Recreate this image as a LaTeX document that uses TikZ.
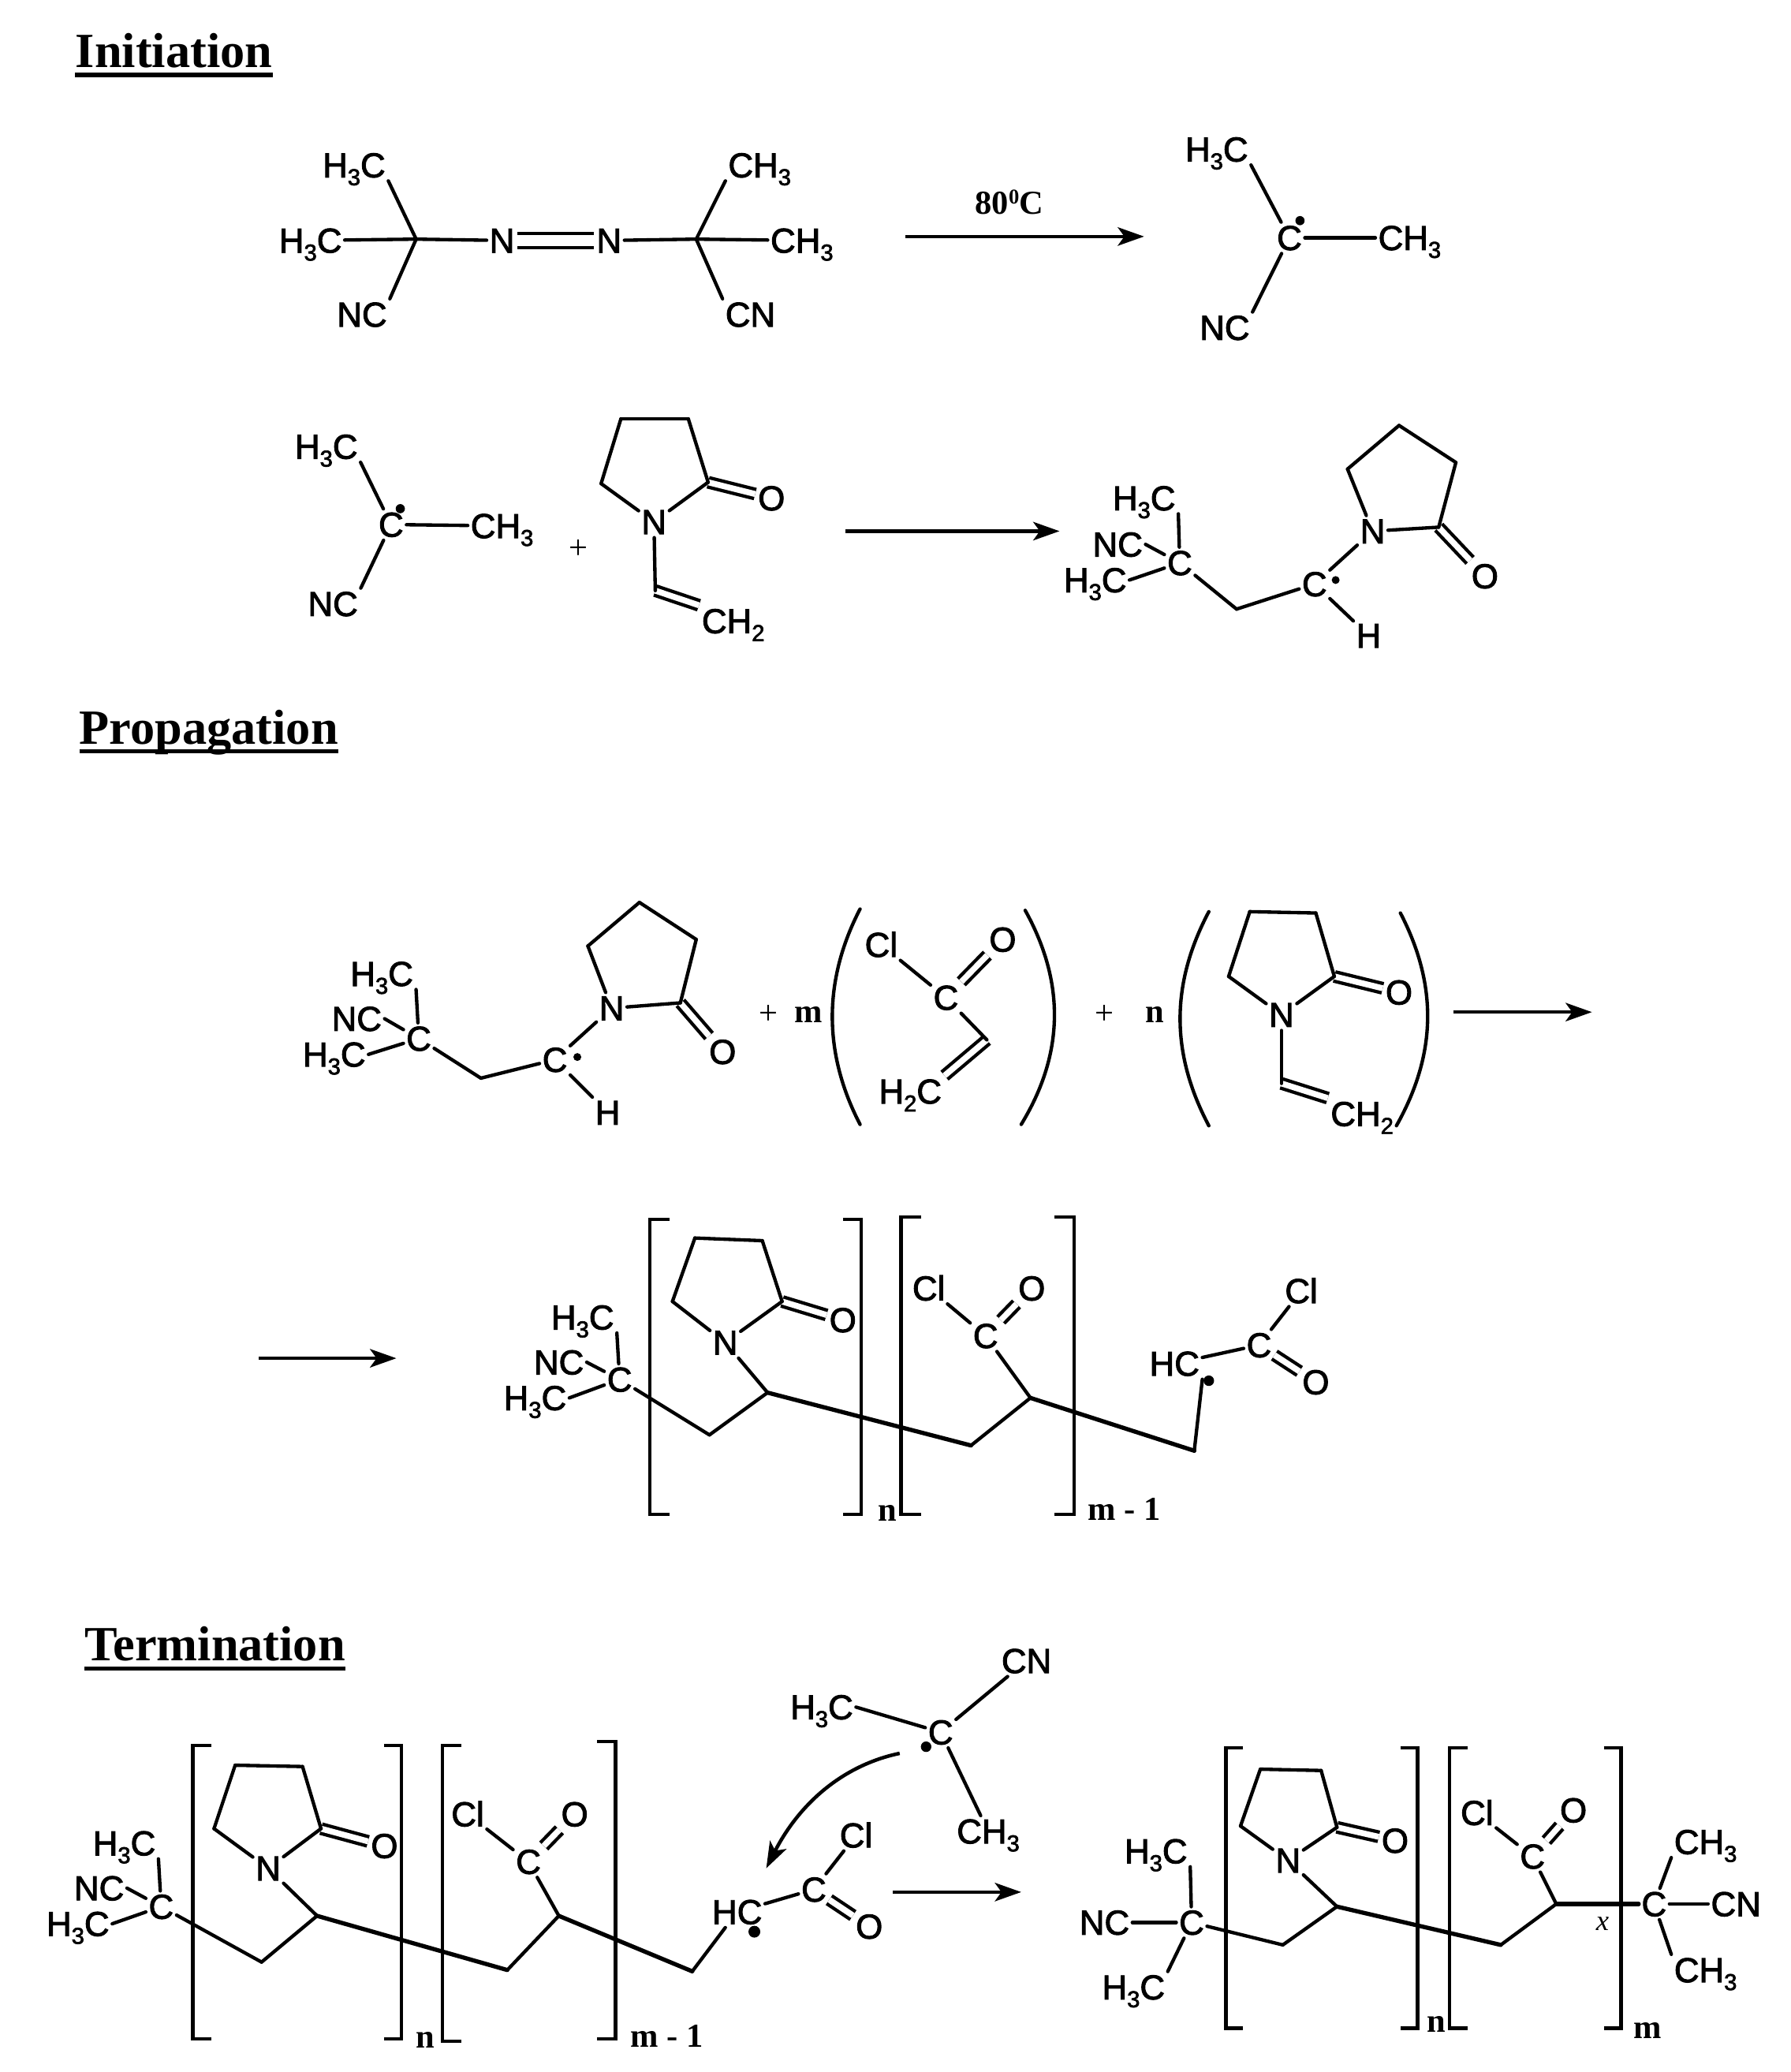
\documentclass[tikz,border=0pt]{standalone}
\usepackage{fontspec}
\usepackage{tikz}
\usetikzlibrary{arrows.meta}
\setmainfont{Liberation Sans}[FakeBold=2.2]
\newfontfamily\chemserif{Liberation Serif}
\tikzset{
  chemtext/.style={font=\fontsize{26.3}{30}\selectfont, text height=18.5pt, text depth=0pt, inner xsep=2pt, inner ysep=2.5pt},
  serifbold/.style={font=\chemserif\bfseries\fontsize{25.5}{30}\selectfont, inner sep=0pt},
  serifplain/.style={font=\chemserif\fontsize{25.5}{30}\selectfont, inner sep=0pt},
  titletext/.style={font=\chemserif\bfseries\fontsize{37.4}{44}\selectfont, text depth=5.5pt, inner sep=0pt, anchor=base west},
  bondline/.style={line width=2.6pt, line cap=round},
  heavyline/.style={line width=3.2pt, line cap=round},
  reactarrow/.style={line width=2.7pt, -{Stealth[length=20pt,width=14pt,inset=5pt]}},
}
\newcommand{\chemsub}[1]{\raisebox{-6pt}{\fontsize{17.5}{17}\selectfont #1}}
\newcommand{\chemlabel}[3] {\node at (#1) (#2) [chemtext] {#3};}
\newcommand{\chemword}[4] {\node at (#1) (#2) [#3] {#4};}
\newcommand{\chemvertex}[2] {\coordinate (#2) at (#1);}
\newcommand{\chemdot}[3] {\node at (#1) (#2) [circle, fill, inner sep=0pt, minimum size=#3] {};}
\newcommand{\chembond}[2] {\draw [bondline] (#1) -- (#2);}
\newcommand{\chemheavy}[2] {\draw [heavyline] (#1) -- (#2);}
\newcommand{\chemdouble}[3][4.5pt] {\draw [bondline, line cap=butt, double, double distance=#1] (#2) -- (#3);}
\newcommand{\chemtitle}[3] {\node at (#1) (#2) [titletext] {#3}; \draw [line width=3.2pt] (#2.south west) -- (#2.south east);}
\newcommand{\chembracket}[4] {\draw [bondline, line cap=butt, line join=miter] (#2,#3) -- (#1,#3) -- (#1,#4) -- (#2,#4);}
\newcommand{\chemparen}[4] {\draw [bondline] (#1) .. controls (#2) and (#3) .. (#4);}
\newcommand{\chemarrow}[2] {\draw [reactarrow] (#1) -- (#2);}

\begin{document}
\begin{tikzpicture}[x=1.005pt, y=-1.005pt]
\useasboundingbox (0,0) rectangle (1355.2,1568.2);

\chemtitle{57,51}{initiation}{Initiation}
\chemtitle{60,563}{propagation}{Propagation}
\chemtitle{64,1257}{termination}{Termination}

% azo initiator
\chemlabel{268,125}{aH1}{H\chemsub{3}C}
\chemlabel{235,182}{aH2}{H\chemsub{3}C}
\chemlabel{274,238}{aNC}{NC}
\chemvertex{315,181}{aC1}
\chemlabel{380,182}{aN1}{N}
\chemlabel{461,182}{aN2}{N}
\chemvertex{527,181}{aC2}
\chemlabel{575,125}{aH3}{CH\chemsub{3}}
\chemlabel{607,182}{aH4}{CH\chemsub{3}}
\chemlabel{568,238}{aCN}{CN}
\chembond{aH1.south east}{aC1}
\chembond{aH2}{aC1}
\chembond{aNC.north east}{aC1}
\chembond{aC1}{aN1}
\chemdouble[8pt]{aN1}{aN2}
\chembond{aN2}{aC2}
\chembond{aC2}{aH3.south west}
\chembond{aC2}{aH4}
\chembond{aC2}{aCN.north west}

\chemvertex{685,179}{arrowAs}
\chemvertex{866,179}{arrowAe}
\chemarrow{arrowAs}{arrowAe}
\chemword{764,153}{arrowAt}{serifbold}{80\raisebox{8pt}{\fontsize{16}{16}\selectfont 0}C}

% first radical
\chemlabel{921,113}{bH1}{H\chemsub{3}C}
\chemlabel{976,180}{bC}{C}
\chemdot{984,167}{bD}{7pt}
\chemlabel{1067,180}{bH2}{CH\chemsub{3}}
\chemlabel{927,248}{bNC}{NC}
\chembond{bH1.south east}{bC}
\chembond{bC}{bH2}
\chembond{bNC.north east}{bC}

% radical and monomer
\chemlabel{247,338}{cH1}{H\chemsub{3}C}
\chemlabel{296,397}{cC}{C}
\chemdot{303,385}{cD}{7pt}
\chemlabel{380,398}{cH2}{CH\chemsub{3}}
\chemlabel{252,457}{cNC}{NC}
\chembond{cH1.south east}{cC}
\chembond{cC}{cH2}
\chembond{cNC.north east}{cC}
\chemword{438,416}{plusA}{serifplain}{+}

\chemvertex{470,317}{vR1}
\chemvertex{521,317}{vR2}
\chemvertex{536,365}{vR3}
\chemlabel{495,395}{vN}{N}
\chemvertex{455,366}{vR4}
\chemlabel{584,377}{vO}{O}
\chemvertex{496,447}{vV}
\chemlabel{555,470}{vCH}{CH\chemsub{2}}
\chemdouble{vR3}{vO}
\chemdouble{vV}{vCH.north west}
\chembond{vR1}{vR2}
\chembond{vR2}{vR3}
\chembond{vR3}{vN}
\chembond{vN}{vR4}
\chembond{vR4}{vR1}
\chembond{vN}{vV}

\chemvertex{640,402}{arrowBs}
\chemvertex{802,402}{arrowBe}
\chemarrow{arrowBs}{arrowBe}

% adduct
\chemlabel{866,377}{dH1}{H\chemsub{3}C}
\chemlabel{846,412}{dNC}{NC}
\chemlabel{829,439}{dH2}{H\chemsub{3}C}
\chemlabel{893,426}{dC}{C}
\chemvertex{936,461}{dV}
\chemlabel{995,442}{dCr}{C}
\chemdot{1011,439}{dD}{6pt}
\chemlabel{1039,402}{dN}{N}
\chemvertex{1020,355}{dR1}
\chemvertex{1059,322}{dR2}
\chemvertex{1102,350}{dR3}
\chemvertex{1089,399}{dR4}
\chemlabel{1124,436}{dO}{O}
\chemlabel{1036,481}{dH}{H}
\chemdouble{dR4}{dO}
\chembond{dH1.south east}{dC}
\chembond{dNC.east}{dC}
\chembond{dH2.east}{dC}
\chembond{dC}{dV}
\chembond{dV}{dCr}
\chembond{dCr}{dN}
\chembond{dCr}{dH}
\chembond{dN}{dR1}
\chembond{dR1}{dR2}
\chembond{dR2}{dR3}
\chembond{dR3}{dR4}
\chembond{dR4}{dN}

% propagation, first line
\chemlabel{289,737}{eH1}{H\chemsub{3}C}
\chemlabel{270,771}{eNC}{NC}
\chemlabel{253,798}{eH2}{H\chemsub{3}C}
\chemlabel{317,786}{eC}{C}
\chemvertex{364,816}{eV}
\chemlabel{420,802}{eCr}{C}
\chemdot{437,800}{eD}{6pt}
\chemlabel{463,763}{eN}{N}
\chemvertex{445,716}{eR1}
\chemvertex{484,683}{eR2}
\chemvertex{527,711}{eR3}
\chemvertex{515,759}{eR4}
\chemlabel{547,796}{eO}{O}
\chemlabel{460,842}{eH}{H}
\chemdouble{eR4}{eO}
\chembond{eH1.south east}{eC}
\chembond{eNC.east}{eC}
\chembond{eH2.east}{eC}
\chembond{eC}{eV}
\chembond{eV}{eCr}
\chembond{eCr}{eN}
\chembond{eCr}{eH}
\chembond{eN}{eR1}
\chembond{eR1}{eR2}
\chembond{eR2}{eR3}
\chembond{eR3}{eR4}
\chembond{eR4}{eN}

\chemword{582,768}{plusB}{serifplain}{+}
\chemword{612,768}{indexm}{serifbold}{m}
\chemparen{651,688}{623,742}{623,797}{651,851}
\chemparen{776,689}{806,743}{806,797}{773,851}
\chemlabel{667,715}{fCl}{Cl}
\chemlabel{716,755}{fC}{C}
\chemlabel{759,711}{fO}{O}
\chemvertex{747,787}{fV}
\chemlabel{689,826}{fH}{H\chemsub{2}C}
\chemdouble{fC}{fO}
\chemdouble{fV}{fH.north east}
\chembond{fCl}{fC}
\chembond{fC}{fV}

\chemword{836,768}{plusC}{serifplain}{+}
\chemword{874,768}{indexn}{serifbold}{n}
\chemparen{915,690}{886,745}{886,797}{915,852}
\chemparen{1060,691}{1088,745}{1088,797}{1057,852}
\chemvertex{946,690}{gR1}
\chemvertex{996,691}{gR2}
\chemvertex{1010,739}{gR3}
\chemlabel{970,768}{gN}{N}
\chemvertex{930,739}{gR4}
\chemlabel{1059,751}{gO}{O}
\chemvertex{970,820}{gV}
\chemlabel{1031,843}{gCH}{CH\chemsub{2}}
\chemdouble{gR3}{gO}
\chemdouble{gV}{gCH.north west}
\chembond{gR1}{gR2}
\chembond{gR2}{gR3}
\chembond{gR3}{gN}
\chembond{gN}{gR4}
\chembond{gR4}{gR1}
\chembond{gN}{gV}

\chemvertex{1100,766}{arrowCs}
\chemvertex{1205,766}{arrowCe}
\chemarrow{arrowCs}{arrowCe}

% propagation, second line
\chemvertex{196,1028}{arrowDs}
\chemvertex{300,1028}{arrowDe}
\chemarrow{arrowDs}{arrowDe}

\chembracket{492}{507}{923}{1146}
\chembracket{652}{638}{923}{1146}
\chembracket{682}{697}{921}{1146}
\chembracket{813}{798}{921}{1146}
\chemword{672,1145}{hn}{serifbold}{n}
\chemword{851,1142}{hm}{serifbold}{m - 1}

\chemlabel{441,997}{hH1}{H\chemsub{3}C}
\chemlabel{423,1031}{hNC}{NC}
\chemlabel{405,1058}{hH2}{H\chemsub{3}C}
\chemlabel{469,1044}{hC}{C}
\chemvertex{537,1086}{hV1}
\chemvertex{581,1054}{hV2}
\chemvertex{735,1094}{hV3}
\chemvertex{780,1058}{hV4}
\chemvertex{904,1098}{hV5}
\chemvertex{526,937}{hR1}
\chemvertex{577,939}{hR2}
\chemvertex{592,985}{hR3}
\chemlabel{549,1016}{hN}{N}
\chemvertex{509,985}{hR4}
\chemlabel{638,999}{hO}{O}
\chemlabel{703,975}{hCl}{Cl}
\chemlabel{746,1011}{hC2}{C}
\chemlabel{781,975}{hO2}{O}
\chemlabel{889,1032}{hHC}{HC}
\chemdot{915,1045}{hD}{8pt}
\chemlabel{953,1018}{hC3}{C}
\chemlabel{985,977}{hCl2}{Cl}
\chemlabel{996,1046}{hO3}{O}
\chemdouble{hR3}{hO}
\chemdouble{hC2}{hO2}
\chemdouble{hC3}{hO3}
\chembond{hH1.south east}{hC}
\chembond{hNC.east}{hC}
\chembond{hH2.east}{hC}
\chembond{hC}{hV1}
\chembond{hV1}{hV2}
\chemheavy{hV2}{hV3}
\chembond{hV3}{hV4}
\chemheavy{hV4}{hV5}
\chembond{hV5}{hHC.south east}
\chembond{hN}{hV2}
\chembond{hN}{hR4}
\chembond{hR4}{hR1}
\chembond{hR1}{hR2}
\chembond{hR2}{hR3}
\chembond{hR3}{hN}
\chembond{hCl}{hC2}
\chembond{hC2}{hV4}
\chembond{hHC}{hC3}
\chembond{hC3}{hCl2}

% termination, polymer radical
\chembracket{146}{160}{1321}{1543}
\chembracket{304}{291}{1321}{1543}
\chembracket{335}{349}{1321}{1545}
\chembracket{466}{452}{1318}{1543}
\chemword{322,1544}{kn}{serifbold}{n}
\chemword{505,1541}{km}{serifbold}{m - 1}

\chemlabel{94,1395}{kH1}{H\chemsub{3}C}
\chemlabel{75,1429}{kNC}{NC}
\chemlabel{59,1456}{kH2}{H\chemsub{3}C}
\chemlabel{122,1443}{kC}{C}
\chemvertex{198,1485}{kV1}
\chemvertex{240,1450}{kV2}
\chemvertex{384,1491}{kV3}
\chemvertex{423,1450}{kV4}
\chemvertex{524,1492}{kV5}
\chemvertex{178,1336}{kR1}
\chemvertex{229,1337}{kR2}
\chemvertex{243,1384}{kR3}
\chemlabel{203,1414}{kN}{N}
\chemvertex{162,1384}{kR4}
\chemlabel{291,1397}{kO}{O}
\chemlabel{354,1373}{kCl}{Cl}
\chemlabel{400,1409}{kC2}{C}
\chemlabel{435,1373}{kO2}{O}
\chemlabel{558,1447}{kHC}{HC}
\chemdot{571,1462}{kD}{9pt}
\chemlabel{616,1430}{kC3}{C}
\chemlabel{648,1389}{kCl2}{Cl}
\chemlabel{658,1458}{kO3}{O}
\chemdouble{kR3}{kO}
\chemdouble{kC2}{kO2}
\chemdouble{kC3}{kO3}
\chembond{kH1.south east}{kC}
\chembond{kNC.east}{kC}
\chembond{kH2.east}{kC}
\chembond{kC}{kV1}
\chembond{kV1}{kV2}
\chemheavy{kV2}{kV3}
\chembond{kV3}{kV4}
\chemheavy{kV4}{kV5}
\chembond{kV5}{kHC}
\chembond{kN}{kV2}
\chembond{kN}{kR4}
\chembond{kR4}{kR1}
\chembond{kR1}{kR2}
\chembond{kR2}{kR3}
\chembond{kR3}{kN}
\chembond{kCl}{kC2}
\chembond{kC2}{kV4}
\chembond{kHC}{kC3}
\chembond{kC3}{kCl2}

% termination, attacking radical
\chemlabel{622,1292}{rH}{H\chemsub{3}C}
\chemlabel{712,1311}{rC}{C}
\chemdot{701,1322}{rD}{8pt}
\chemlabel{777,1257}{rCN}{CN}
\chemlabel{748,1386}{rCH}{CH\chemsub{3}}
\chembond{rH.east}{rC}
\chembond{rC}{rCN}
\chembond{rC}{rCH}
\chemvertex{681,1327}{curveS}
\chemvertex{580,1414}{curveE}
\draw [reactarrow] (curveS) .. controls (638,1336) and (605,1365) .. (curveE);

\chemvertex{676,1432}{arrowEs}
\chemvertex{773,1432}{arrowEe}
\chemarrow{arrowEs}{arrowEe}

% termination, product
\chembracket{928}{941}{1323}{1535}
\chembracket{1073}{1060}{1323}{1535}
\chembracket{1097}{1111}{1323}{1535}
\chembracket{1227}{1214}{1323}{1535}
\chemword{1087,1532}{pn}{serifbold}{n}
\chemword{1247,1537}{pm}{serifbold}{m}

\chemlabel{875,1401}{pH1}{H\chemsub{3}C}
\chemlabel{836,1455}{pNC}{NC}
\chemlabel{858,1504}{pH2}{H\chemsub{3}C}
\chemlabel{902,1455}{pC}{C}
\chemvertex{971,1472}{pV1}
\chemvertex{1012,1443}{pV2}
\chemvertex{1136,1472}{pV3}
\chemvertex{1178,1441}{pV4}
\chemvertex{954,1339}{pR1}
\chemvertex{1000,1340}{pR2}
\chemvertex{1012,1383}{pR3}
\chemlabel{975,1408}{pN}{N}
\chemvertex{939,1382}{pR4}
\chemlabel{1056,1393}{pO}{O}
\chemlabel{1118,1372}{pCl}{Cl}
\chemlabel{1160,1405}{pC2}{C}
\chemlabel{1191,1370}{pO2}{O}
\chemword{1213,1456}{pX}{serifplain}{\fontsize{22}{22}\selectfont\itshape x}
\chemlabel{1252,1441}{pC3}{C}
\chemlabel{1291,1394}{pH3}{CH\chemsub{3}}
\chemlabel{1314,1441}{pCN}{CN}
\chemlabel{1291,1491}{pH4}{CH\chemsub{3}}
\chemdouble{pR3}{pO}
\chemdouble{pC2}{pO2}
\chembond{pH1.south east}{pC}
\chembond{pNC}{pC}
\chembond{pH2.north east}{pC}
\chembond{pC}{pV1}
\chembond{pV1}{pV2}
\chemheavy{pV2}{pV3}
\chembond{pV3}{pV4}
\chemheavy{pV4}{pC3}
\chembond{pN}{pV2}
\chembond{pN}{pR4}
\chembond{pR4}{pR1}
\chembond{pR1}{pR2}
\chembond{pR2}{pR3}
\chembond{pR3}{pN}
\chembond{pCl}{pC2}
\chembond{pC2}{pV4}
\chembond{pC3}{pH3.south west}
\chembond{pC3}{pCN}
\chembond{pC3}{pH4.north west}

\end{tikzpicture}
\end{document}
